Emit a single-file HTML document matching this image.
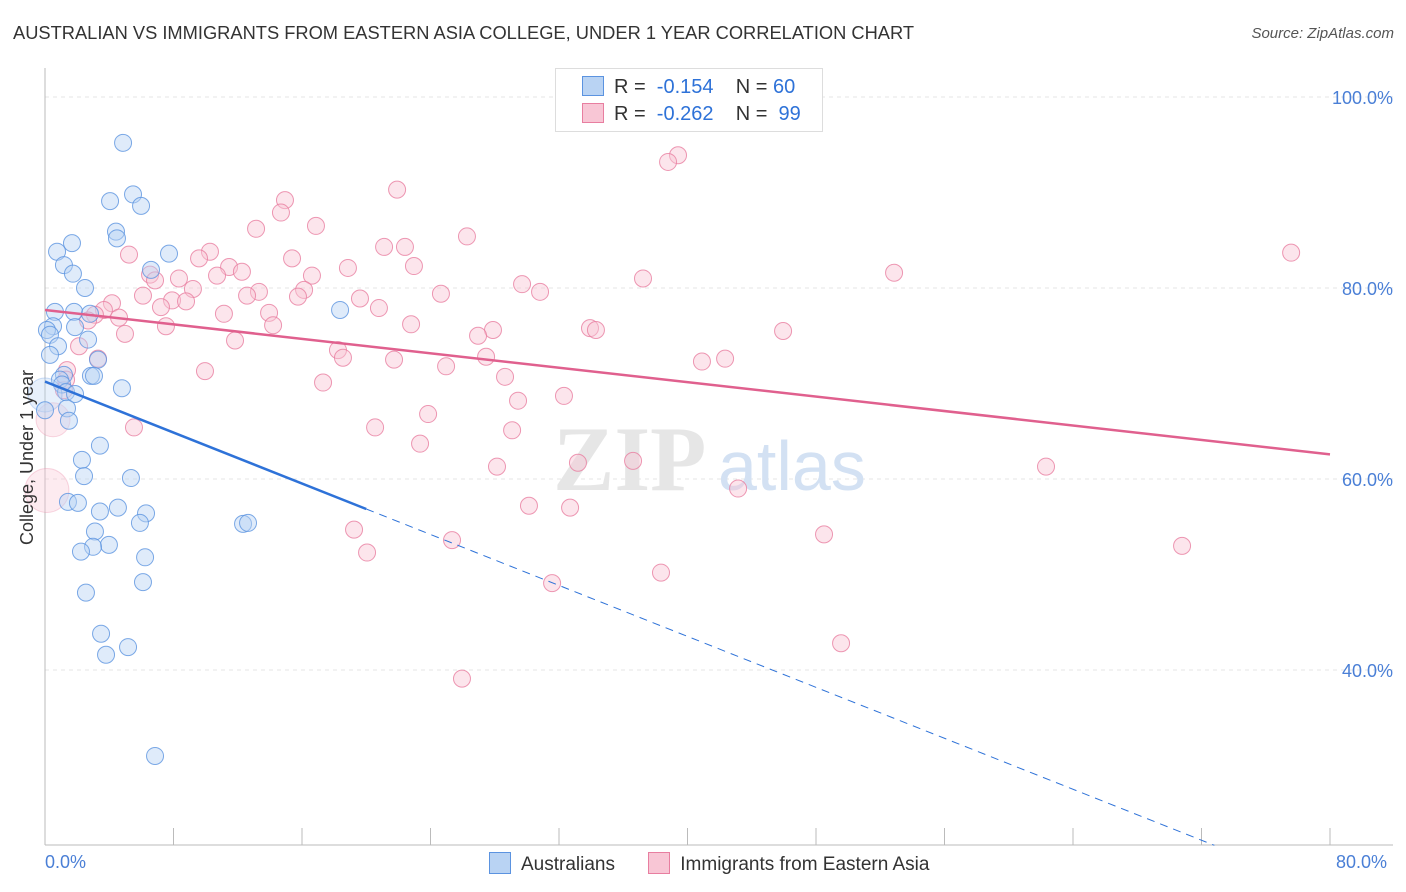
<!DOCTYPE html>
<html><head><meta charset="utf-8">
<style>
body{margin:0;background:#fff;font-family:"Liberation Sans",sans-serif;}
#wrap{position:relative;width:1406px;height:892px;overflow:hidden;}
.t{position:absolute;white-space:nowrap;}
</style></head>
<body>
<div id="wrap">
<div class="t" style="left:13px;top:22px;font-size:18.3px;color:#333;">AUSTRALIAN VS IMMIGRANTS FROM EASTERN ASIA COLLEGE, UNDER 1 YEAR CORRELATION CHART</div>
<div class="t" style="right:12px;top:25px;font-size:15px;color:#555;font-style:italic;">Source: ZipAtlas.com</div>
<svg id="svg" width="1406" height="892" style="position:absolute;left:0;top:0"></svg>
</div>
<script>
const blueX=[4.86,5.48,4.05,5.98,4.42,4.48,1.68,0.75,7.72,1.18,1.74,6.60,2.49,0.62,1.81,2.80,0.50,0.12,1.87,0.31,2.68,0.81,0.31,3.30,2.86,3.05,1.18,0.93,1.06,4.79,1.31,1.87,1.37,1.49,3.42,2.30,2.43,5.35,1.43,2.05,4.54,3.42,6.29,5.91,3.11,3.98,2.99,2.24,6.23,6.10,2.55,3.49,5.17,3.80,6.85,18.37,12.33,12.64,0,0];
const blueY=[95.2,89.8,89.1,88.6,85.9,85.2,84.7,83.8,83.6,82.4,81.5,81.9,80.0,77.5,77.5,77.3,76.0,75.6,75.9,75.1,74.6,73.9,73.0,72.5,70.8,70.8,70.9,70.4,69.9,69.5,69.1,68.9,67.4,66.1,63.5,62.0,60.3,60.1,57.6,57.5,57.0,56.6,56.4,55.4,54.5,53.1,52.9,52.4,51.8,49.2,48.1,43.8,42.4,41.6,31.0,77.7,55.3,55.4,68.8,67.2];
const pinkX=[37.79,39.41,38.79,21.92,14.94,14.69,16.87,13.14,26.27,21.11,22.41,77.58,10.27,5.23,9.59,15.38,11.46,22.97,18.86,12.26,10.71,6.54,8.34,6.85,16.62,37.23,52.86,29.70,9.21,16.13,13.32,30.82,6.10,7.91,24.65,12.58,19.61,15.75,8.78,4.17,7.22,20.79,3.67,11.14,3.11,13.95,4.61,2.68,7.53,22.79,14.20,33.93,34.30,27.89,45.95,26.96,4.98,11.83,2.12,18.24,3.30,27.46,18.55,21.73,42.34,40.90,24.97,9.96,1.37,28.64,1.31,17.31,1.18,32.31,29.45,23.85,0.50,5.54,20.55,29.08,23.35,36.61,33.18,28.14,62.32,43.15,30.13,32.69,19.24,48.50,25.34,20.05,70.79,31.57,38.35,49.56,25.96,0.12];
const pinkY=[98.3,93.9,93.2,90.3,89.2,87.9,86.5,86.2,85.4,84.3,84.3,83.7,83.8,83.5,83.1,83.1,82.2,82.3,82.1,81.7,81.3,81.4,81.0,80.8,81.3,81.0,81.6,80.4,79.9,79.8,79.6,79.6,79.2,78.7,79.4,79.2,78.9,79.1,78.6,78.4,78.0,77.9,77.7,77.3,77.2,77.4,76.9,76.6,76.0,76.2,76.1,75.8,75.6,75.6,75.5,75.0,75.2,74.5,73.9,73.5,72.6,72.8,72.7,72.5,72.6,72.3,71.8,71.3,71.4,70.7,70.4,70.1,69.3,68.7,68.2,66.8,66.2,65.4,65.4,65.1,63.7,61.9,61.7,61.3,61.3,59.0,57.2,57.0,54.7,54.2,53.6,52.3,53.0,49.1,50.2,42.8,39.1,58.8];
const pinkBig=[76,97];
const blueBig=[58];
const blueTrend=[70.2,-0.667];
const pinkTrend=[77.7,-0.189];
const yTicks=[100,80,60,40];
const xTickVals=[0,8,16,24,32,40,48,56,64,72,80];

const NS="http://www.w3.org/2000/svg";
const svg=document.getElementById('svg');
const X=v=>45+v*1285/80;
const Y=v=>97+(100-v)*9.55;
function mk(t,a){const e=document.createElementNS(NS,t);for(const k in a)e.setAttribute(k,a[k]);svg.appendChild(e);return e;}
yTicks.forEach(v=>{
 const g=mk('line',{x1:45,x2:1393,y1:Y(v),y2:Y(v),stroke:'#e4e4e4','stroke-dasharray':'4,4'});
 
 
 const t=mk('text',{x:1393,y:Y(v)+7,'text-anchor':'end','font-size':18,fill:'#4a7fd6','font-family':'Liberation Sans'});
 t.textContent=v.toFixed(1)+'%';
 
 
});
mk('line',{x1:45,x2:45,y1:68,y2:845,stroke:'#bbb'});
mk('line',{x1:45,x2:1393,y1:845,y2:845,stroke:'#bbb'});
xTickVals.forEach(v=>{
 const l=mk('line',{x1:X(v),x2:X(v),y1:828,y2:845,stroke:'#bbb'});
 
 
});
let w=mk('text',{x:553,y:490,'font-size':92,fill:'#e6e6e6','font-family':'Liberation Serif','font-weight':'bold'});w.textContent='ZIP';


w=mk('text',{x:718,y:490,'font-size':70,fill:'#d3e1f3','font-family':'Liberation Sans'});w.textContent='atlas';


function pts(xs,ys,big,fill,stroke,name){
 xs.forEach((x,i)=>{
  const b=big.includes(i);
  const c=mk('circle',{cx:X(x),cy:Y(ys[i]),r:b?(name==='pink-point'&&i===97?22:17):8.5,fill:fill,'fill-opacity':b?0.35:0.45,stroke:stroke,'stroke-width':1,'stroke-opacity':b?0.3:0.8});
  
  
 });
}
pts(pinkX,pinkY,pinkBig,'#f8c6d5','#e87ea0','pink-point');
pts(blueX,blueY,blueBig,'#b9d3f3','#5b93e0','blue-point');
let l=mk('line',{x1:X(0),y1:Y(blueTrend[0]),x2:X(20),y2:Y(blueTrend[0]+blueTrend[1]*20),stroke:'#2e72d8','stroke-width':2.5});


l=mk('line',{x1:X(20),y1:Y(blueTrend[0]+blueTrend[1]*20),x2:X(72.8),y2:Y(blueTrend[0]+blueTrend[1]*72.8),stroke:'#2e72d8','stroke-width':1,'stroke-dasharray':'8,6'});


l=mk('line',{x1:X(0),y1:Y(pinkTrend[0]),x2:X(80),y2:Y(pinkTrend[0]+pinkTrend[1]*80),stroke:'#e0608e','stroke-width':2.5});


</script>
<div class="t" style="left:-60px;top:447px;font-size:18px;color:#333;transform:rotate(-90deg);">College, Under 1 year</div>
<div class="t" style="left:45px;top:852px;font-size:18px;color:#4a7fd6;">0.0%</div>
<div class="t" style="left:1336px;top:852px;font-size:18px;color:#4a7fd6;">80.0%</div>
<div style="position:absolute;left:555px;top:68px;width:266px;height:62px;border:1px solid #ddd;background:#fff;font-size:20px;">
 <div style="position:absolute;left:26px;top:7px;white-space:nowrap;color:#333;"><span style="display:inline-block;width:20px;height:18px;background:#b9d3f3;border:1px solid #5b93e0;vertical-align:-3px;margin-right:10px;"></span>R = &nbsp;<span style="color:#2e72d8">-0.154</span>&nbsp;&nbsp;&nbsp; N = <span style="color:#2e72d8">60</span></div>
 <div style="position:absolute;left:26px;top:34px;white-space:nowrap;color:#333;"><span style="display:inline-block;width:20px;height:18px;background:#f8c6d5;border:1px solid #e87ea0;vertical-align:-3px;margin-right:10px;"></span>R = &nbsp;<span style="color:#2e72d8">-0.262</span>&nbsp;&nbsp;&nbsp; N = &nbsp;<span style="color:#2e72d8">99</span></div>
</div>
<div style="position:absolute;left:489px;top:852px;font-size:19px;color:#333;white-space:nowrap;">
 <span><span style="display:inline-block;width:20px;height:20px;background:#b9d3f3;border:1px solid #5b93e0;vertical-align:-4px;margin-right:10px;"></span>Australians</span>
 <span style="margin-left:28px;"><span style="display:inline-block;width:20px;height:20px;background:#f8c6d5;border:1px solid #e87ea0;vertical-align:-4px;margin-right:10px;"></span>Immigrants from Eastern Asia</span>
</div>
</body></html>
